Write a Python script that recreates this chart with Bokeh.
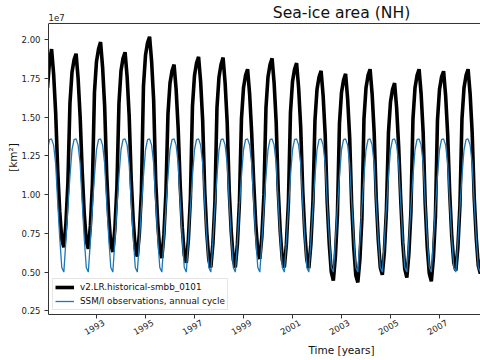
import math
from bokeh.plotting import figure
from bokeh.models import (Label, FixedTicker, CustomJSTickFormatter, LinearAxis,
                          Range1d, ColumnDataSource, Span, Title)
from bokeh.embed import file_html
from bokeh.resources import INLINE

# ---- data (sea-ice area, million km^2, monthly Jan..Dec) ----
years = list(range(1991, 2009))
model_area = [
    [16.9, 18.6, 19.4, 17.8, 15.3, 11.6, 8.9, 7.1, 6.6, 8.1, 10.8, 15.9],   # 1991
    [17.9, 18.7, 19.1, 17.5, 15.0, 11.5, 8.8, 7.0, 6.5, 8.0, 10.7, 16.6],   # 1992
    [18.6, 19.4, 19.85, 18.2, 15.7, 11.3, 8.6, 6.8, 6.3, 7.8, 10.5, 15.9],  # 1993
    [18.0, 18.8, 19.2, 17.6, 15.1, 11.0, 8.3, 6.5, 6.0, 7.5, 10.2, 17.0],   # 1994
    [19.0, 19.8, 20.2, 18.6, 16.1, 10.9, 8.2, 6.4, 5.9, 7.4, 10.1, 15.2],   # 1995
    [17.2, 18.0, 18.4, 16.8, 14.3, 10.6, 7.9, 6.1, 5.6, 7.1, 9.8, 15.7],    # 1996
    [17.7, 18.5, 18.9, 17.3, 14.8, 10.3, 7.6, 5.8, 5.3, 6.8, 9.5, 15.6],    # 1997
    [17.6, 18.4, 18.85, 17.2, 14.7, 10.3, 7.6, 5.8, 5.3, 6.8, 9.5, 14.9],   # 1998
    [16.9, 17.7, 18.1, 16.5, 14.0, 10.8, 8.1, 6.3, 5.85, 7.3, 10.0, 15.6],  # 1999
    [17.6, 18.4, 18.8, 17.2, 14.7, 10.3, 7.6, 5.8, 5.3, 6.8, 9.5, 15.3],    # 2000
    [17.3, 18.1, 18.5, 16.9, 14.4, 10.3, 7.6, 5.8, 5.25, 6.8, 9.5, 14.8],   # 2001
    [16.8, 17.6, 18.0, 16.4, 13.9, 9.5, 6.8, 5.0, 4.45, 6.0, 8.7, 14.6],    # 2002
    [16.6, 17.4, 17.8, 16.2, 13.7, 9.3, 6.6, 4.8, 4.33, 5.8, 8.5, 14.9],    # 2003
    [16.9, 17.7, 18.1, 16.5, 14.0, 9.8, 7.1, 5.3, 4.83, 6.3, 9.0, 14.0],    # 2004
    [16.0, 16.8, 17.2, 15.6, 13.1, 9.7, 6.9, 5.2, 4.65, 6.2, 8.9, 14.9],    # 2005
    [16.9, 17.7, 18.1, 16.5, 14.0, 9.4, 6.6, 4.9, 4.4, 5.9, 8.6, 14.8],     # 2006
    [16.8, 17.6, 17.97, 16.4, 13.9, 10.1, 7.3, 5.6, 5.1, 6.6, 9.3, 14.9],   # 2007
    [16.9, 17.7, 18.1, 16.5, 14.0, 9.8, 7.2, 5.4, 4.9, 6.3, 9.0, 14.5],     # 2008
]
obs_cycle = [12.9, 13.55, 13.6, 13.2, 12.0, 9.5, 7.2, 5.3, 5.0, 7.0, 9.2, 11.2]

model_label = "v2.LR.historical-smbb_0101"
obs_label = "SSM/I observations, annual cycle"
title_text = "Sea-ice area (NH)"
xlabel_text = "Time [years]"
ylabel_text = "[km\u00b2]"
x_ticks = [1993, 1995, 1997, 1999, 2001, 2003, 2005, 2007]
y_ticks = [0.25e7, 0.5e7, 0.75e7, 1.0e7, 1.25e7, 1.5e7, 1.75e7, 2.0e7]

t, ym, yo = [], [], []
for yi, yr in enumerate(years):
    for m in range(12):
        t.append(yr + m / 12.0)
        ym.append(model_area[yi][m] * 1e6)
        yo.append(obs_cycle[m] * 1e6)
src = ColumnDataSource(dict(t=t, model=ym, obs=yo))

# axes limits (data) ; the frame is extended upward to hold title texts
X0, X1 = 1991.041, 2008.673
Y0, Y1 = 0.2261e7, 2.1053e7       # bottom / top spine
YTOP = 2.2538e7                   # canvas top
LABEL_SHIFT = 0.29                # years: centres rotated tick labels
FONT = "DejaVu Sans"
AX = "#333333"

p = figure(width=480, height=360, output_backend="svg", toolbar_location=None,
           x_range=Range1d(X0, X1), y_range=Range1d(Y0, YTOP),
           min_border_left=48, min_border_right=0, min_border_top=0,
           min_border_bottom=46)
p.outline_line_color = None
p.grid.visible = False
p.background_fill_color = "white"

p.line("t", "model", source=src, color="black", line_width=3.6,
       legend_label=model_label)
p.line("t", "obs", source=src, color="#1f77b4", line_width=1.3,
       legend_label=obs_label)

# top spine
p.add_layout(Span(location=Y1, dimension="width", line_color=AX, line_width=1))

# left axis
ya = p.yaxis[0]
ya.bounds = (Y0, Y1)
ya.ticker = FixedTicker(ticks=y_ticks)
ya.formatter = CustomJSTickFormatter(code="return (tick/1e7).toFixed(2);")
ya.axis_label = ylabel_text
ya.axis_label_standoff = 0
ya.axis_label_text_font = FONT
ya.axis_label_text_font_size = "10.5px"
ya.axis_label_text_font_style = "normal"
ya.axis_label_text_color = "#111111"

# bottom axis (ticks only)
xa = p.xaxis[0]
xa.ticker = FixedTicker(ticks=x_ticks)
xa.formatter = CustomJSTickFormatter(code="return '';")
xa.major_label_standoff = 0

for ax in (xa, ya):
    ax.axis_line_color = AX
    ax.axis_line_width = 1
    ax.major_tick_line_color = AX
    ax.major_tick_out = 4
    ax.major_tick_in = 0
    ax.minor_tick_line_color = None
    ax.major_label_text_font = FONT
    ax.major_label_text_font_size = "8.5px"
    ax.major_label_text_color = "#222222"
ya.major_label_standoff = 4

# second bottom axis carrying the rotated year labels
xl = LinearAxis(ticker=FixedTicker(ticks=[v + LABEL_SHIFT for v in x_ticks]),
                formatter=CustomJSTickFormatter(
                    code="return String(Math.round(tick - %s));" % LABEL_SHIFT),
                axis_line_color=None, major_tick_line_color=None,
                minor_tick_line_color=None, major_tick_out=0, major_tick_in=0,
                major_label_standoff=3, major_label_orientation=math.pi / 6,
                major_label_text_font=FONT, major_label_text_font_size="8.5px",
                major_label_text_color="#222222")
p.add_layout(xl, "below")

# x label as a bottom title
p.add_layout(Title(text=xlabel_text, align="left", offset=260, standoff=0,
                   text_font=FONT, text_font_size="10.5px",
                   text_font_style="normal", text_color="#111111"), "below")

# title and offset text inside the extended frame
p.add_layout(Label(x=2003.0, y=Y1, y_offset=1, text=title_text,
                   text_align="center", text_baseline="bottom",
                   text_font=FONT, text_font_size="15.6px",
                   text_color="#111111"))
p.add_layout(Label(x=X0, y=Y1, y_offset=2.3, text="1e7",
                   text_align="left", text_baseline="bottom",
                   text_font=FONT, text_font_size="8.5px",
                   text_color="#222222"))

lg = p.legend[0]
lg.location = "bottom_left"
lg.margin = 4
lg.padding = 2
lg.spacing = 2
lg.glyph_width = 19
lg.glyph_height = 12
lg.label_height = 12
lg.label_standoff = 6
lg.label_text_font = FONT
lg.label_text_font_size = "8.8px"
lg.label_text_color = "#111111"
lg.border_line_color = "#cccccc"
lg.border_line_width = 1
lg.background_fill_alpha = 0.8

open("out.html", "w").write(file_html(p, INLINE))
